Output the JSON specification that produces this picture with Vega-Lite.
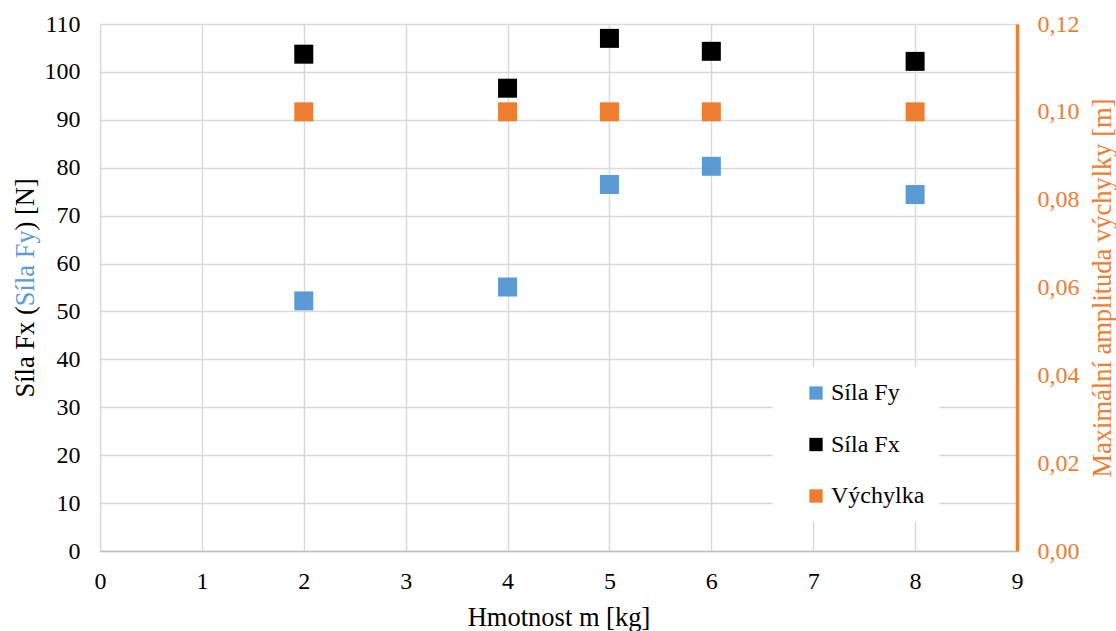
{
  "$schema": "https://vega.github.io/schema/vega-lite/v6.json",
  "width": 917,
  "height": 527,
  "autosize": {"type": "none"},
  "padding": {"left": 100, "top": 24, "right": 99, "bottom": 80},
  "background": "white",
  "config": {
    "font": "Liberation Serif",
    "view": {"stroke": null},
    "text": {"font": "Liberation Serif"},
    "style": {
      "guide-label": {"font": "Liberation Serif", "fontSize": 24},
      "guide-title": {"font": "Liberation Serif"}
    },
    "axis": {
      "labelFont": "Liberation Serif",
      "titleFont": "Liberation Serif",
      "labelFontSize": 24,
      "titleFontSize": 26.5,
      "titleFontWeight": "normal",
      "labelColor": "black",
      "titleColor": "black",
      "labelFlush": false,
      "labelOverlap": false
    },
    "legend": {"labelFont": "Liberation Serif", "labelFontSize": 24}
  },
  "data": {
    "values": [
      {"m": 2, "series": "Síla Fy", "v": 52.2},
      {"m": 4, "series": "Síla Fy", "v": 55.1},
      {"m": 5, "series": "Síla Fy", "v": 76.5},
      {"m": 6, "series": "Síla Fy", "v": 80.3},
      {"m": 8, "series": "Síla Fy", "v": 74.4},
      {"m": 2, "series": "Síla Fx", "v": 103.7},
      {"m": 4, "series": "Síla Fx", "v": 96.6},
      {"m": 5, "series": "Síla Fx", "v": 107.0},
      {"m": 6, "series": "Síla Fx", "v": 104.3},
      {"m": 8, "series": "Síla Fx", "v": 102.2},
      {"m": 2, "series": "Výchylka", "v": 0.1},
      {"m": 4, "series": "Výchylka", "v": 0.1},
      {"m": 5, "series": "Výchylka", "v": 0.1},
      {"m": 6, "series": "Výchylka", "v": 0.1},
      {"m": 8, "series": "Výchylka", "v": 0.1}
    ]
  },
  "encoding": {
    "x": {
      "field": "m",
      "type": "quantitative",
      "scale": {"domain": [0, 9], "nice": false, "zero": false},
      "axis": {
        "values": [0, 1, 2, 3, 4, 5, 6, 7, 8, 9],
        "title": "Hmotnost m [kg]",
        "labelFont": "Liberation Serif",
        "labelFontSize": 24,
        "titleFont": "Liberation Serif",
        "grid": true,
        "gridColor": "#D9D9D9",
        "gridWidth": 1.5,
        "domainColor": "#BFBFBF",
        "domainWidth": 1.5,
        "ticks": false,
        "labelPadding": 37,
        "labelBaseline": "alphabetic",
        "titleBaseline": "alphabetic",
        "titleY": 74
      }
    }
  },
  "layer": [
    {
      "transform": [{"filter": "datum.series == 'Síla Fy'"}],
      "mark": {"type": "square", "size": 361, "opacity": 1, "strokeWidth": 0},
      "encoding": {
        "y": {
          "field": "v",
          "type": "quantitative",
          "scale": {"domain": [0, 110], "nice": false},
          "axis": {
            "orient": "left",
            "labels": false,
            "ticks": false,
            "domain": false,
            "grid": false,
            "title": "Síla Fy",
            "titleFont": "Liberation Serif",
            "titleColor": "#5B9BD5",
            "titleAngle": 270,
            "titleAlign": "left",
            "titleBaseline": "alphabetic",
            "titleX": -67,
            "titleY": 281.7
          }
        },
        "color": {
          "field": "series",
          "type": "nominal",
          "scale": {"domain": ["Síla Fy", "Síla Fx", "Výchylka"], "range": ["#5B9BD5", "#000000", "#ED7D31"]},
          "legend": {
            "orient": "none",
            "legendX": 673,
            "legendY": 343,
            "title": null,
            "symbolType": "square",
            "symbolSize": 177,
            "symbolStrokeWidth": 0,
            "symbolOpacity": 1,
            "labelFont": "Liberation Serif",
            "labelFontSize": 24,
            "labelColor": "black",
            "labelOffset": 3,
            "rowPadding": 27.5,
            "padding": 14,
            "symbolOffset": 17,
            "fillColor": "white"
          }
        }
      }
    },
    {
      "transform": [{"filter": "datum.series == 'Síla Fx'"}],
      "mark": {"type": "square", "size": 361, "opacity": 1, "strokeWidth": 0},
      "encoding": {
        "y": {
          "field": "v",
          "type": "quantitative",
          "scale": {"domain": [0, 110], "nice": false},
          "axis": {
            "orient": "left",
            "values": [0, 10, 20, 30, 40, 50, 60, 70, 80, 90, 100, 110],
            "labelFont": "Liberation Serif",
            "labelFontSize": 24,
            "titleFont": "Liberation Serif",
            "grid": true,
            "gridColor": "#D9D9D9",
            "gridWidth": 1.5,
            "domain": false,
            "ticks": false,
            "labelPadding": 20,
            "title": "Síla Fx (",
            "titleAngle": 270,
            "titleAlign": "left",
            "titleBaseline": "alphabetic",
            "titleX": -67,
            "titleY": 373
          }
        },
        "color": {
          "field": "series",
          "type": "nominal",
          "scale": {"domain": ["Síla Fy", "Síla Fx", "Výchylka"], "range": ["#5B9BD5", "#000000", "#ED7D31"]}
        }
      }
    },
    {
      "transform": [{"filter": "datum.series == 'Výchylka'"}],
      "mark": {"type": "square", "size": 361, "opacity": 1, "strokeWidth": 0},
      "encoding": {
        "y": {
          "field": "v",
          "type": "quantitative",
          "scale": {"domain": [0, 0.12], "nice": false},
          "axis": {
            "orient": "right",
            "values": [0, 0.02, 0.04, 0.06, 0.08, 0.1, 0.12],
            "labelExpr": "replace(format(datum.value, '.2f'), '.', ',')",
            "labelFont": "Liberation Serif",
            "labelFontSize": 24,
            "titleFont": "Liberation Serif",
            "labelColor": "#ED7D31",
            "domainColor": "#ED7D31",
            "domainWidth": 3.5,
            "ticks": false,
            "grid": false,
            "labelPadding": 20,
            "title": "Maximální amplituda výchylky [m]",
            "titleColor": "#ED7D31",
            "titleAngle": 270,
            "titleAlign": "center",
            "titleBaseline": "alphabetic",
            "titleX": 93,
            "titleY": 263.5
          }
        },
        "color": {
          "field": "series",
          "type": "nominal",
          "scale": {"domain": ["Síla Fy", "Síla Fx", "Výchylka"], "range": ["#5B9BD5", "#000000", "#ED7D31"]}
        }
      }
    },
    {
      "transform": [{"filter": "datum.series == 'Síla Fx'"}],
      "mark": {"type": "square", "size": 1, "opacity": 0},
      "encoding": {
        "y": {
          "field": "v",
          "type": "quantitative",
          "scale": {"domain": [0, 110], "nice": false},
          "axis": {
            "orient": "left",
            "labels": false,
            "ticks": false,
            "domain": false,
            "grid": false,
            "title": ") [N]",
            "titleFont": "Liberation Serif",
            "titleAngle": 270,
            "titleAlign": "left",
            "titleBaseline": "alphabetic",
            "titleX": -67,
            "titleY": 205.9
          }
        }
      }
    }
  ],
  "resolve": {"scale": {"y": "independent"}}
}
